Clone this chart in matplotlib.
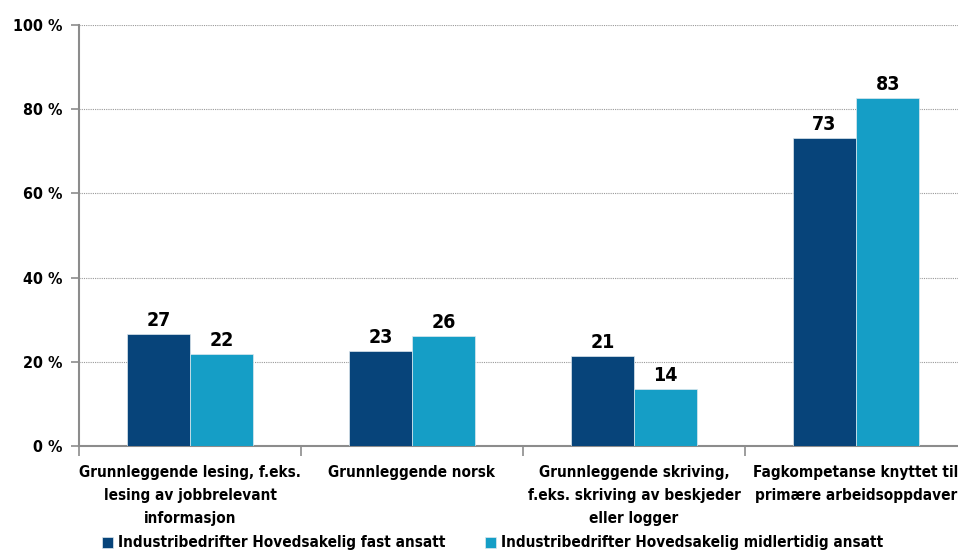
import matplotlib
matplotlib.use("Agg")
import matplotlib.pyplot as plt
from matplotlib.ticker import FixedLocator, NullFormatter
import numpy as np

plt.rcParams['font.family'] = ['DejaVu Sans']
plt.rcParams['font.stretch'] = 'condensed'
plt.rcParams['font.weight'] = 'bold'

categories = [
    "Grunnleggende lesing, f.eks.\nlesing av jobbrelevant\ninformasjon",
    "Grunnleggende norsk",
    "Grunnleggende skriving,\nf.eks. skriving av beskjeder\neller logger",
    "Fagkompetanse knyttet til\nprimære arbeidsoppdaver",
]
series_names = ["Industribedrifter Hovedsakelig fast ansatt",
                "Industribedrifter Hovedsakelig midlertidig ansatt"]
fast = [26.6, 22.6, 21.4, 73.2]
midl = [21.8, 26.1, 13.6, 82.7]
yticks = [0, 20, 40, 60, 80, 100]
ytick_labels = ["0 %", "20 %", "40 %", "60 %", "80 %", "100 %"]

dark = "#07447a"
light = "#159ec6"
FS = 11

fig = plt.figure(figsize=(9.58, 5.54), dpi=100)
ax = fig.add_axes([79/958, (554-446)/554, 888/958, 421/554])

x = np.arange(len(categories))
w = 0.285
b1 = ax.bar(x - w/2, fast, w, color=dark, edgecolor="#dfe8ee", linewidth=0.5, label=series_names[0], zorder=3)
b2 = ax.bar(x + w/2, midl, w, color=light, edgecolor="#dfe8ee", linewidth=0.5, label=series_names[1], zorder=3)

for bars, vals in ((b1, fast), (b2, midl)):
    for rect, v in zip(bars, vals):
        ax.text(rect.get_x() + rect.get_width()/2, v + 1.0, f"{round(v):d}",
                ha="center", va="bottom", fontsize=14, fontweight="bold", color="black")

ax.set_xlim(-0.5, len(categories) - 0.5)
ax.set_ylim(0, 100)
ax.set_yticks(yticks)
ax.set_yticklabels(ytick_labels, fontsize=11.5, fontweight="bold")
ax.yaxis.grid(True, color="#999999", linestyle=(0, (1, 1)), linewidth=0.8, zorder=0)
ax.set_axisbelow(True)

ax.set_xticks(x)
ax.set_xticklabels(categories, fontsize=FS, fontweight="bold", linespacing=1.65)
ax.tick_params(axis="x", which="major", length=0, pad=14)
ax.xaxis.set_minor_locator(FixedLocator(np.arange(-0.5, len(categories), 1.0)))
ax.xaxis.set_minor_formatter(NullFormatter())
ax.tick_params(axis="x", which="minor", length=7, color="#8c8c8c", width=1.2, direction="out")
ax.tick_params(axis="y", length=6, color="#8c8c8c", width=1.2, direction="out", pad=6)

for s in ("top", "right"):
    ax.spines[s].set_visible(False)
for s in ("left", "bottom"):
    ax.spines[s].set_color("#8c8c8c")
    ax.spines[s].set_linewidth(1.5)

leg = fig.legend(handles=[b1, b2], labels=series_names, loc="center left",
                 bbox_to_anchor=(93/958, 1 - 543/554), ncol=2, frameon=False,
                 fontsize=FS, handlelength=0.7, handleheight=0.7,
                 handletextpad=0.35, columnspacing=2.6, borderpad=0.1)

fig.savefig("out.png", dpi=100)
